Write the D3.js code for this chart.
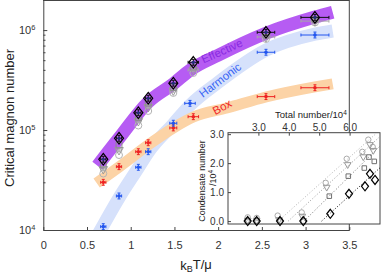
<!DOCTYPE html>
<html>
<head>
<meta charset="utf-8">
<script src="https://cdn.jsdelivr.net/npm/d3@7"></script>
<style>
body { margin: 0; background: #fff; }
text { font-family: "Liberation Sans", Arial, sans-serif; }
</style>
</head>
<body>
<div id="chart"></div>
<script>
// ---- main panel data: kBT/mu vs critical magnon number ----
var tempPts = [0.686, 0.866, 1.087, 1.20, 1.487, 1.716, 2.547, 3.107];
var tempHarm = [0.686, 0.866, 1.087, 1.20, 1.487, 1.678, 2.547, 3.107];
var tempErr = [0.03, 0.03, 0.03, 0.03, 0.04, 0.06, 0.1, 0.16];

var effDiamond  = [5.10e4, 8.27e4, 1.49e5, 2.08e5, 2.94e5, 4.76e5, 9.50e5, 1.34e6];
var effSquare   = [4.47e4, 7.08e4, 1.33e5, 1.86e5, 2.66e5, 4.27e5, 8.93e5, 1.28e6];
var effTriangle = [4.07e4, 6.31e4, 1.23e5, 1.70e5, 2.49e5, 3.99e5, 8.53e5, 1.23e6];
var effCircle   = [3.67e4, 5.62e4, 1.11e5, 1.55e5, 2.35e5, 3.72e5, 8.14e5, 1.19e6];
var harmValues  = [1.08e4, 2.19e4, 4.24e4, 6.07e4, 1.17e5, 1.85e5, 6.0e5, 8.93e5];
var boxValues   = [3.0e4, 4.3e4, 6.07e4, 7.46e4, 1.05e5, 1.36e5, 2.16e5, 2.65e5];

// theory bands
var effBandT  = [0.62, 0.866, 1.2, 1.487, 1.68, 2.0, 2.547, 3.107, 3.31];
var effBandN  = [4.4e4, 8.3e4, 1.9e5, 2.9e5, 3.98e5, 5.6e5, 9.3e5, 1.35e6, 1.51e6];
var harmBandT = [0.62, 0.866, 1.087, 1.2, 1.487, 1.68, 2.0, 2.547, 3.107, 3.31];
var harmBandN = [8.8e3, 2.1e4, 4.2e4, 6.0e4, 1.15e5, 1.78e5, 3.0e5, 6.3e5, 9.1e5, 9.8e5];
var boxBandT  = [0.61, 0.866, 1.2, 1.487, 1.716, 2.1, 2.547, 3.107, 3.31];
var boxBandN  = [2.95e4, 4.27e4, 7.1e4, 1.05e5, 1.35e5, 1.66e5, 2.14e5, 2.7e5, 2.9e5];

var xTicks = [0, 0.5, 1, 1.5, 2, 2.5, 3, 3.5];

// ---- inset data: total number/10^4 vs condensate number/10^4 ----
var inCircleX = [2.648, 2.944, 3.635, 4.424, 5.214, 5.905, 6.418, 6.615, 6.760];
var inCircleY = [0.13, 0.11, 0.19, 0.30, 1.32, 2.15, 2.39, 2.81, 2.56];
var inTriX = [2.648, 2.944, 3.678, 4.444, 5.247, 5.938, 6.451, 6.671, 6.780];
var inTriY = [0.03, 0.02, 0.05, 0.17, 1.17, 1.95, 2.22, 2.64, 2.44];
var inSqX = [2.648, 2.944, 3.711, 4.477, 5.332, 5.957, 6.484, 6.638, 6.812];
var inSqY = [0, 0, 0, 0, 0.86, 1.55, 1.83, 2.21, 2.06];
var inDiaX = [2.648, 2.944, 3.711, 4.477, 5.365, 5.980, 6.507, 6.671, 6.836];
var inDiaY = [0, 0, 0, 0, 0.25, 0.94, 1.20, 1.63, 1.42];
// linear fits (start, end)
var fitCircle = [[3.65, 0], [6.85, 3.0]];
var fitTri = [[3.98, 0], [7.0, 2.92]];
var fitSq = [[4.5, 0], [7.0, 2.59]];
var fitDia = [[5.08, 0], [7.0, 1.84]];
var inYTicks = [0, 1, 2, 3];
var inTopTicks = [3, 4, 5, 6];

var W = 381, H = 273;
var svg = d3.select("#chart").append("svg")
    .attr("width", W)
    .attr("height", H);

var x = d3.scaleLinear().domain([0, 3.5]).range([43.3, 349.3]);
var y = d3.scaleLog().domain([1e4, 2e6]).range([230, 0]);

svg.append("clipPath").attr("id", "plotclip")
  .append("rect").attr("x", 43.3).attr("y", 0).attr("width", 306).attr("height", 230);
var plot = svg.append("g").attr("clip-path", "url(#plotclip)");

// bands
var bandLine = d3.line()
    .x(function(d) { return x(d[0]); })
    .y(function(d) { return y(d[1]); })
    .curve(d3.curveMonotoneX);
function drawBand(ts, ns, color, w) {
  plot.append("path")
    .datum(d3.zip(ts, ns))
    .attr("d", bandLine)
    .attr("fill", "none")
    .attr("stroke", color)
    .attr("stroke-width", w)
    .attr("stroke-linecap", "butt");
}
drawBand(harmBandT, harmBandN, "#d6e1fb", 13);
drawBand(boxBandT, boxBandN, "#fcd3a6", 11);
drawBand(effBandT, effBandN, "#b65cf3", 13);

// band labels
function bandLabel(txt, cx, cy, ang, color) {
  svg.append("text")
    .attr("transform", "translate(" + cx + "," + cy + ")rotate(" + ang + ")")
    .attr("text-anchor", "middle")
    .attr("dy", "0.35em")
    .attr("font-size", "11.5px")
    .attr("fill", color)
    .text(txt);
}
bandLabel("Effective", 222, 51, -24, "#8a2be2");
bandLabel("Harmonic", 220, 80, -37, "#3a66f5");
bandLabel("Box", 222, 107, -28, "#f02a2a");

// error bars
function errorBars(ts, vs, color, yfac) {
  var g = plot.append("g").attr("stroke", color).attr("stroke-width", 1);
  ts.forEach(function(t, i) {
    var cx = x(t), cy = y(vs[i]);
    var x0 = x(t - tempErr[i]), x1 = x(t + tempErr[i]);
    var y0 = y(vs[i] / yfac), y1 = y(vs[i] * yfac);
    g.append("line").attr("x1", x0).attr("x2", x1).attr("y1", cy).attr("y2", cy);
    g.append("line").attr("x1", x0).attr("x2", x0).attr("y1", cy - 1.5).attr("y2", cy + 1.5);
    g.append("line").attr("x1", x1).attr("x2", x1).attr("y1", cy - 1.5).attr("y2", cy + 1.5);
    g.append("line").attr("x1", cx).attr("x2", cx).attr("y1", y0).attr("y2", y1);
    g.append("line").attr("x1", cx - 1.5).attr("x2", cx + 1.5).attr("y1", y0).attr("y2", y0);
    g.append("line").attr("x1", cx - 1.5).attr("x2", cx + 1.5).attr("y1", y1).attr("y2", y1);
  });
}

var diamondPath = function(w, h) {
  return "M0," + (-h) + "L" + w + ",0L0," + h + "L" + (-w) + ",0Z";
};
function markers(g, xs, ys, sx, sy, kind, color, big) {
  var s = big ? 1 : 0.78;
  g.selectAll(null)
    .data(d3.range(xs.length))
    .join("path")
      .attr("transform", function(i) {
        return "translate(" + sx(xs[i]) + "," + sy(ys[i]) + ")" + (kind === "tri" ? "rotate(180)" : "");
      })
      .attr("d", function() {
        if (kind === "circle") return d3.symbol(d3.symbolCircle, 38 * s * s)();
        if (kind === "tri") return d3.symbol(d3.symbolTriangle, 32 * s * s)();
        if (kind === "square") return d3.symbol(d3.symbolSquare, 34 * s * s)();
        return diamondPath(4.5 * s, 5.8 * s);
      })
      .attr("fill", "none")
      .attr("stroke", color)
      .attr("stroke-width", kind === "diamond" ? 1.2 : 1);
}

// red (box) and blue (harmonic)
errorBars(tempPts, boxValues, "#ee2222", 1.07);
plot.selectAll(null).data(boxValues).join("circle")
  .attr("cx", function(d, i) { return x(tempPts[i]); })
  .attr("cy", function(d) { return y(d); })
  .attr("r", 1.8).attr("fill", "#ee2222");
errorBars(tempHarm, harmValues, "#2255ee", 1.07);
plot.selectAll(null).data(harmValues).join("circle")
  .attr("cx", function(d, i) { return x(tempHarm[i]); })
  .attr("cy", function(d) { return y(d); })
  .attr("r", 1.8).attr("fill", "#2255ee");

// effective: gray analyses and diamonds
errorBars(tempPts, effTriangle, "#a8a8a8", 1.04);
markers(plot, tempPts, effCircle, x, y, "circle", "#b4b4b4", true);
markers(plot, tempPts, effTriangle, x, y, "tri", "#9c9c9c", true);
markers(plot, tempPts, effSquare, x, y, "square", "#8c8c8c", true);
errorBars(tempPts, effDiamond, "#111", 1.07);
plot.selectAll(null).data(effDiamond).join("circle")
  .attr("cx", function(d, i) { return x(tempPts[i]); })
  .attr("cy", function(d) { return y(d); })
  .attr("r", 1.6).attr("fill", "#23307a");
markers(plot, tempPts, effDiamond, x, y, "diamond", "#000", true);

// axes
var axisColor = "#444";
var xAxis = svg.append("g")
  .attr("transform", "translate(0,230)")
  .call(d3.axisBottom(x).tickValues(xTicks).tickSize(-3).tickSizeOuter(0).tickPadding(11)
        .tickFormat(d3.format("")));
xAxis.selectAll("text").attr("font-size", "11px").attr("fill", "#333")
  .attr("font-family", "Liberation Sans, Arial, sans-serif");

var yVals = [];
[1e4, 1e5, 1e6].forEach(function(dec) {
  for (var k = 1; k <= 9; k++) if (dec * k <= 2e6) yVals.push(dec * k);
});
yVals.push(2e6);
var yAxis = svg.append("g")
  .attr("transform", "translate(43.3,0)")
  .call(d3.axisLeft(y).tickValues(yVals).tickSize(-4).tickSizeOuter(0).tickPadding(8));
yAxis.selectAll(".tick").each(function(d) {
  var e = Math.round(Math.log10(d));
  var major = Math.abs(Math.log10(d) - e) < 1e-6;
  var t = d3.select(this);
  t.select("line").attr("x2", major ? 4 : 2.2);
  var txt = t.select("text").text(null).attr("font-size", "11px").attr("fill", "#333")
    .attr("font-family", "Liberation Sans, Arial, sans-serif");
  if (major) {
    txt.append("tspan").text("10");
    txt.append("tspan").attr("dy", "-0.5em").attr("font-size", "7.5px").text(e);
  }
});
[xAxis, yAxis].forEach(function(a) {
  a.selectAll("path,line").attr("stroke", axisColor);
});

// top and right frame
svg.append("line").attr("x1", 43.3).attr("x2", 349.3).attr("y1", 0.5).attr("y2", 0.5)
  .attr("stroke", axisColor);
svg.append("line").attr("x1", 349.3).attr("x2", 349.3).attr("y1", 0).attr("y2", 230)
  .attr("stroke", axisColor);

// axis titles
svg.append("text")
  .attr("transform", "translate(14,118)rotate(-90)")
  .attr("text-anchor", "middle")
  .attr("font-size", "13px")
  .attr("fill", "#222")
  .text("Critical magnon number");
var xl = svg.append("text")
  .attr("x", 196).attr("y", 270)
  .attr("text-anchor", "middle")
  .attr("font-size", "13px")
  .attr("fill", "#222");
xl.append("tspan").text("k");
xl.append("tspan").attr("dy", "0.25em").attr("font-size", "9px").text("B");
xl.append("tspan").attr("dy", "-0.25em").text("T/\u03bc");

// ---- inset ----
var ix = d3.scaleLinear().domain([2, 7]).range([228, 380]);
var iy = d3.scaleLinear().domain([-0.1, 3.05]).range([224, 132.7]);
var inset = svg.append("g");
inset.append("rect")
  .attr("x", 228).attr("y", 132.7).attr("width", 152).attr("height", 91.3)
  .attr("fill", "#fff").attr("stroke", axisColor);

var fitLine = d3.line().x(function(d) { return ix(d[0]); }).y(function(d) { return iy(d[1]); });
[[fitCircle, "#b4b4b4"], [fitTri, "#9c9c9c"], [fitSq, "#777"], [fitDia, "#111"]].forEach(function(f) {
  inset.append("path").datum(f[0]).attr("d", fitLine)
    .attr("fill", "none").attr("stroke", f[1]).attr("stroke-width", 1)
    .attr("stroke-dasharray", "1,2");
});
markers(inset, inCircleX, inCircleY, ix, iy, "circle", "#aaaaaa", false);
markers(inset, inTriX, inTriY, ix, iy, "tri", "#999999", false);
markers(inset, inSqX, inSqY, ix, iy, "square", "#707070", false);
markers(inset, inDiaX, inDiaY, ix, iy, "diamond", "#000", false);

var iyAxis = inset.append("g")
  .attr("transform", "translate(228,0)")
  .call(d3.axisLeft(iy).tickValues(inYTicks).tickSize(-3).tickSizeOuter(0).tickPadding(4));
var ixAxis = inset.append("g")
  .attr("transform", "translate(0,132.7)")
  .call(d3.axisTop(ix).tickValues(inTopTicks).tickSize(-3).tickSizeOuter(0).tickPadding(1.5));
[iyAxis, ixAxis].forEach(function(a) {
  a.select(".domain").remove();
  a.selectAll("line").attr("stroke", axisColor);
  a.selectAll("text").attr("font-size", "10px").attr("fill", "#333")
    .attr("font-family", "Liberation Sans, Arial, sans-serif");
});

inset.append("text")
  .attr("transform", "translate(204.5,181)rotate(-90)")
  .attr("text-anchor", "middle")
  .attr("font-size", "9px")
  .attr("fill", "#222")
  .text("Condensate number");
var il = inset.append("text")
  .attr("transform", "translate(215.5,178)rotate(-90)")
  .attr("text-anchor", "middle")
  .attr("font-size", "9px")
  .attr("fill", "#222");
il.append("tspan").text("/10");
il.append("tspan").attr("dy", "-0.45em").attr("font-size", "6.5px").text("4");

var tl = inset.append("text")
  .attr("x", 275).attr("y", 118)
  .attr("font-size", "9.5px")
  .attr("fill", "#222");
tl.append("tspan").text("Total number/10");
tl.append("tspan").attr("dy", "-0.45em").attr("font-size", "6.5px").text("4");
</script>
</body>
</html>
